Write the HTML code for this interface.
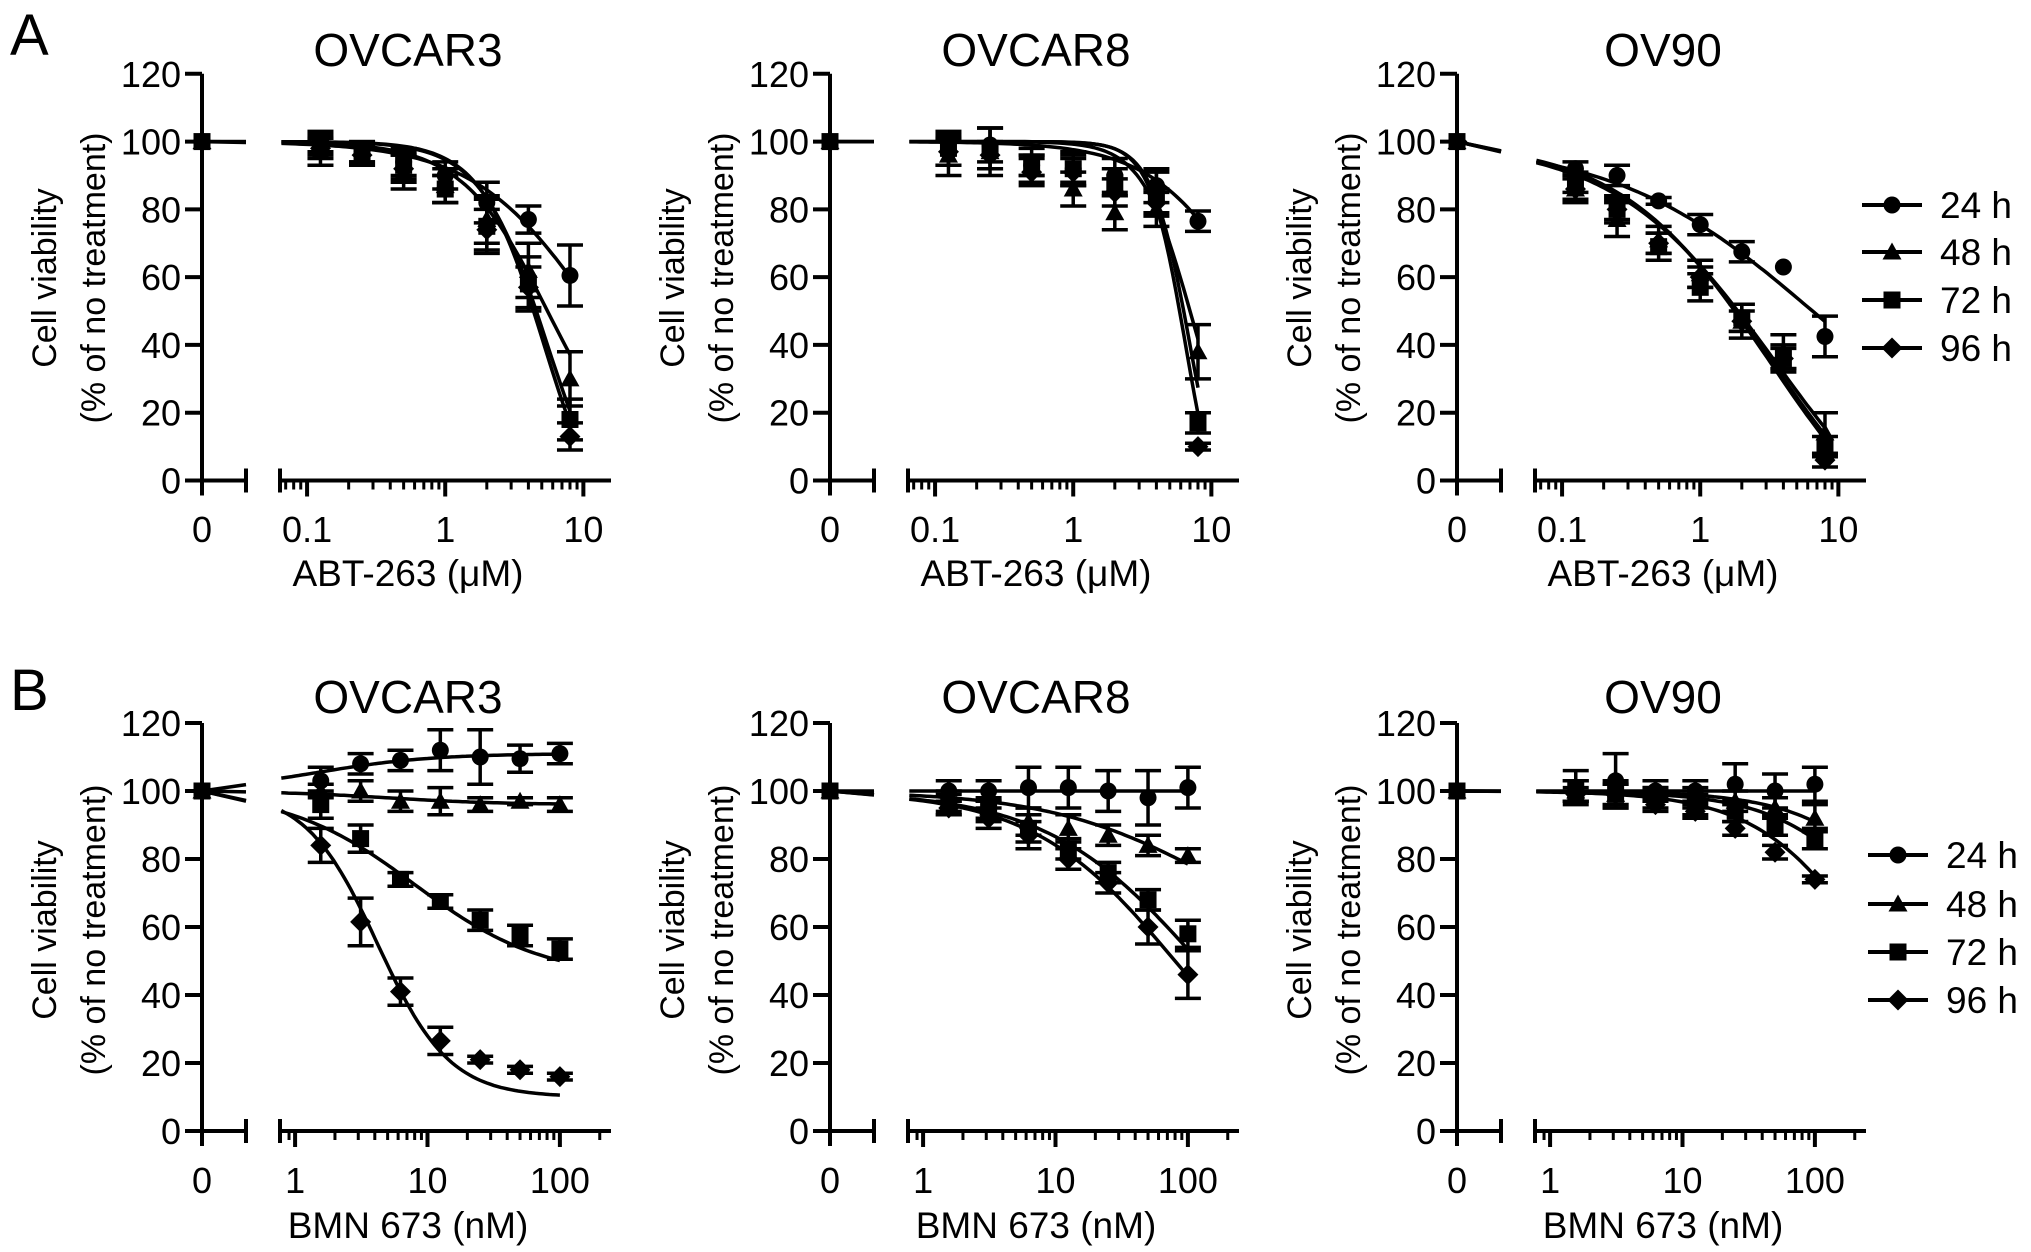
<!DOCTYPE html>
<html><head><meta charset="utf-8"><title>Cell viability</title>
<style>
html,body{margin:0;padding:0;background:#fff;}
svg{display:block;font-family:"Liberation Sans",Arial,sans-serif;}
</style></head>
<body>
<svg id="fig" width="2031" height="1252" viewBox="0 0 2031 1252" xmlns="http://www.w3.org/2000/svg">
<text x="10" y="55" font-size="58">A</text>
<text x="10" y="710" font-size="58">B</text>
</svg>
<script>
// ---- data ----
const seriesNames = ['24 h','48 h','72 h','96 h'];
const concA = [0.125,0.25,0.5,1,2,4,8];
const concB = [1.5625,3.125,6.25,12.5,25,50,100];
const ticksA = [0.1,1,10];
const tickLabelsA = ['0.1','1','10'];
const ticksB = [1,10,100];
const tickLabelsB = ['1','10','100'];
const yTicks = [0,20,40,60,80,100,120];

// A OVCAR3
const a1_24 = [99,97,94,90,82,77,60.5];
const a1_48 = [97,96,91,87,77,62,30];
const a1_72 = [100,97,93,86,75,58,18];
const a1_96 = [98,96,92,86,74,57,13];
const a1Sd = [[3,3,4,4,6,4,9],[4,3,5,5,7,8,8],[3,3,4,4,8,8,6],[3,3,4,4,6,6,4]];
const a1Right = [0,0,-20,-20], a1Ic = [12,5.5,5.5,5.2], a1Hill = [1,1.4,1.8,1.9];
// A OVCAR8
const a2_24 = [97,99,93,92,90,87,76.5];
const a2_48 = [96,97,92,86,79,80,38];
const a2_72 = [98,98,94,92,88,85,17];
const a2_96 = [97,96,91,91,85,82,10];
const a2Sd = [[4,5,3,4,5,5,3],[6,7,4,5,5,5,8],[5,6,4,5,4,6,3],[4,4,4,4,4,4,1]];
const a2Right = [0,0,-20,-20], a2Ic = [22,7,7,6.5], a2Hill = [1.2,2.5,3.2,3.4];
// A OV90
const a3_24 = [92,90,82.5,75.5,67.5,63,42.5];
const a3_48 = [86,77,71,61,47,38,14];
const a3_72 = [88,80,69,57,48,36,10];
const a3_96 = [86,80,70,60,47,36,6];
const a3Sd = [[2,3,1,3,3,0,6],[4,5,4,4,5,5,6],[3,4,4,4,4,4,3],[3,3,3,3,3,3,2]];
const a3Right = [0,-30,-30,-30], a3Ic = [6.5,3.5,3.3,3.2], a3Hill = [0.6,0.75,0.78,0.8];
// B OVCAR3
const b1_24 = [103,108,109,112,110,109.5,111];
const b1_48 = [100,100,97,97,96,97,96];
const b1_72 = [96,86,74,67.5,62,57.5,53.5];
const b1_96 = [84,61.5,41,26.5,21,18,16];
const b1Sd = [[4,3,3,6,8,4,3],[2,3,3,4,2,1,2],[4,4,2,2,3,3,3],[5,7,4,4,1,1,1]];
const b1Right = [111,96,45,10], b1Ic = [1.5,5,8,4.2], b1Hill = [1,1,0.9,1.6];
// B OVCAR8
const b2_24 = [100,100,101,101,100,98,101];
const b2_48 = [97,95,91,89,87,84,81];
const b2_72 = [96,94,89,83,76,68,58];
const b2_96 = [95,92,87,80,73,60,46];
const b2Sd = [[3,3,6,6,6,8,6],[3,3,4,4,3,3,2],[3,3,4,3,3,3,4],[2,3,4,3,3,5,7]];
const b2Right = [100,50,0,0], b2Ic = [10,150,120,80], b2Hill = [1,0.7,0.75,0.8];
// B OV90
const b3_24 = [101,103,100,100,102,100,102];
const b3_48 = [100,99,99,98,97,95,92];
const b3_72 = [100,99,98,96,94,90,86];
const b3_96 = [99,99,96,94,89,82,74];
const b3Sd = [[5,8,3,3,6,5,5],[3,3,2,3,3,3,4],[3,4,3,3,3,3,3],[2,3,2,2,2,2,1]];
const b3Right = [100,0,0,0], b3Ic = [10,1000,600,300], b3Hill = [1,1,1,1];
const zeroValue = 100;
const fitLeft = 100;

// ---- layout ----
const svg = document.getElementById('fig');
const NS = 'http://www.w3.org/2000/svg';
function mk(tag, attrs, parent){
  const e = document.createElementNS(NS, tag);
  for (const k in attrs) e.setAttribute(k, attrs[k]);
  (parent||svg).appendChild(e);
  return e;
}
const rows = {
  A:{y0:480.5, y120:73.8, conc:concA, ticks:ticksA, tl:tickLabelsA, logStart:-1.196, logEnd:1.2, tickBase:542, xTitleBase:586, titleBase:66, ylabY:278, xtitle:'ABT-263 (\u03bcM)'},
  B:{y0:1131, y120:723, conc:concB, ticks:ticksB, tl:tickLabelsB, logStart:-0.114, logEnd:2.386, tickBase:1193, xTitleBase:1238, titleBase:713, ylabY:930, xtitle:'BMN 673 (nM)'}
};
const panels = [
  {row:'A', col:0, title:'OVCAR3', vals:[a1_24,a1_48,a1_72,a1_96], sd:a1Sd, right:a1Right, ic:a1Ic, hill:a1Hill, name:'a-ovcar3'},
  {row:'A', col:1, title:'OVCAR8', vals:[a2_24,a2_48,a2_72,a2_96], sd:a2Sd, right:a2Right, ic:a2Ic, hill:a2Hill, name:'a-ovcar8'},
  {row:'A', col:2, title:'OV90', vals:[a3_24,a3_48,a3_72,a3_96], sd:a3Sd, right:a3Right, ic:a3Ic, hill:a3Hill, name:'a-ov90'},
  {row:'B', col:0, title:'OVCAR3', vals:[b1_24,b1_48,b1_72,b1_96], sd:b1Sd, right:b1Right, ic:b1Ic, hill:b1Hill, name:'b-ovcar3'},
  {row:'B', col:1, title:'OVCAR8', vals:[b2_24,b2_48,b2_72,b2_96], sd:b2Sd, right:b2Right, ic:b2Ic, hill:b2Hill, name:'b-ovcar8'},
  {row:'B', col:2, title:'OV90', vals:[b3_24,b3_48,b3_72,b3_96], sd:b3Sd, right:b3Right, ic:b3Ic, hill:b3Hill, name:'b-ov90'}
];
const colDx = [0, 628, 1255];
const legends = {A:{lineX:1862, textX:1940, y:[205,252,300,348]}, B:{lineX:1868, textX:1946, y:[855,904,952,1000]}};

function marker(kind, cx, cy, g){
  const r = 8.5;
  let e;
  if (kind===0) e = mk('circle',{cx:cx,cy:cy,r:r,fill:'#000'},g);
  else if (kind===1) e = mk('polygon',{points:`${cx},${cy-r-1} ${cx+r+1},${cy+r-1} ${cx-r-1},${cy+r-1}`,fill:'#000'},g);
  else if (kind===2) e = mk('rect',{x:cx-r,y:cy-r,width:2*r,height:2*r,fill:'#000'},g);
  else e = mk('polygon',{points:`${cx},${cy-r-2} ${cx+r+2},${cy} ${cx},${cy+r+2} ${cx-r-2},${cy}`,fill:'#000'},g);
  return e;
}

panels.forEach(p => {
  const R = rows[p.row];
  const dx = colDx[p.col];
  const yAx = 202 + dx, leftEnd = 246 + dx, logX0 = 280 + dx, logX1 = 611 + dx;
  const ys = v => R.y0 - (v/120)*(R.y0 - R.y120);
  const xs = c => logX0 + (Math.log10(c) - R.logStart)/(R.logEnd - R.logStart)*(logX1 - logX0);
  const g = mk('g',{});
  
  
  const t = mk('text',{x:408+dx, y:R.titleBase, 'font-size':46, 'text-anchor':'middle'}, g);
  t.textContent = p.title;
  
  
  const ya = mk('g',{stroke:'#000','stroke-width':4,fill:'none'}, g);
  
  
  mk('line',{x1:yAx,y1:ys(120),x2:yAx,y2:R.y0+15}, ya);
  yTicks.forEach(v => {
    mk('line',{x1:yAx-17,y1:ys(v),x2:yAx,y2:ys(v)}, ya);
    const tl = mk('text',{x:yAx-21,y:ys(v)+13,'font-size':36,'text-anchor':'end',fill:'#000',stroke:'none'}, g);
    tl.textContent = v;
    
    
  });
  const y1 = mk('text',{x:0,y:0,'font-size':34,'text-anchor':'middle',transform:`translate(${56+dx},${R.ylabY}) rotate(-90)`}, g);
  y1.textContent = 'Cell viability';
  
  
  const y2 = mk('text',{x:0,y:0,'font-size':34,'text-anchor':'middle',transform:`translate(${105+dx},${R.ylabY}) rotate(-90)`}, g);
  y2.textContent = '(% of no treatment)';
  
  
  const xa = mk('g',{stroke:'#000','stroke-width':4,fill:'none'}, g);
  
  
  mk('line',{x1:yAx,y1:R.y0,x2:leftEnd,y2:R.y0}, xa);
  mk('line',{x1:leftEnd,y1:R.y0-12,x2:leftEnd,y2:R.y0+12}, xa);
  mk('line',{x1:logX0,y1:R.y0,x2:logX1,y2:R.y0}, xa);
  mk('line',{x1:logX0,y1:R.y0-12,x2:logX0,y2:R.y0+12}, xa);
  const l0 = mk('text',{x:yAx,y:R.tickBase,'font-size':36,'text-anchor':'middle'}, g);
  l0.textContent = '0';
  
  
  const dStart = Math.floor(R.logStart), dEnd = Math.ceil(R.logEnd);
  for (let d = dStart; d <= dEnd; d++) {
    for (let m = 1; m <= 9; m++) {
      const lv = d + Math.log10(m);
      if (lv < R.logStart + 0.03 || lv > R.logEnd - 0.01) continue;
      const x = xs(Math.pow(10, lv));
      mk('line',{x1:x,y1:R.y0,x2:x,y2:R.y0 + (m===1?16:9),'stroke-width':m===1?4:3}, xa);
    }
  }
  R.ticks.forEach((tv,i) => {
    const tl = mk('text',{x:xs(tv),y:R.tickBase,'font-size':36,'text-anchor':'middle'}, g);
    tl.textContent = R.tl[i];
    
    
  });
  const xt = mk('text',{x:408+dx,y:R.xTitleBase,'font-size':37,'text-anchor':'middle'}, g);
  xt.textContent = R.xtitle;
  
  
  p.vals.forEach((vals, si) => {
    const sg = mk('g',{}, g);
    
    
    const fit = c => p.right[si] + (fitLeft - p.right[si])/(1 + Math.pow(c/p.ic[si], p.hill[si]));
    const cLast = R.conc[R.conc.length-1];
    const lStart = R.logStart + 0.01, lEnd = Math.log10(cLast);
    let d = '';
    for (let k = 0; k <= 80; k++) {
      const lc = lStart + (lEnd - lStart)*k/80;
      const c = Math.pow(10, lc);
      d += (k ? 'L' : 'M') + xs(c).toFixed(1) + ',' + ys(fit(c)).toFixed(1);
    }
    const curve = mk('path',{d:d,fill:'none',stroke:'#000','stroke-width':3.5}, sg);
    
    
    const startVal = fit(Math.pow(10,R.logStart));
    const seg = mk('line',{x1:yAx,y1:ys(zeroValue),x2:leftEnd,y2:ys(zeroValue + (startVal - zeroValue)*0.5),stroke:'#000','stroke-width':3.5}, sg);
    
    
    const zp = marker(si, yAx, ys(zeroValue), sg);
    
    
    vals.forEach((v, i) => {
      const x = xs(R.conc[i]);
      const s = p.sd[si][i];
      if (s > 0.5) {
        const eb = mk('path',{d:`M${x},${ys(v+s)}L${x},${ys(v-s)}M${x-13},${ys(v+s)}L${x+13},${ys(v+s)}M${x-13},${ys(v-s)}L${x+13},${ys(v-s)}`,stroke:'#000','stroke-width':3.5,fill:'none'}, sg);
        
        
      }
      const m = marker(si, x, ys(v), sg);
      
      
    });
  });
});

['A','B'].forEach(r => {
  const L = legends[r];
  const lg = mk('g',{});
  
  
  seriesNames.forEach((n, si) => {
    const eg = mk('g',{}, lg);
    
    
    const y = L.y[si];
    mk('line',{x1:L.lineX,y1:y,x2:L.lineX+60,y2:y,stroke:'#000','stroke-width':4}, eg);
    marker(si, L.lineX+30, y, eg);
    const t = mk('text',{x:L.textX,y:y+13,'font-size':37}, eg);
    t.textContent = n;
  });
});
</script>
</body></html>
